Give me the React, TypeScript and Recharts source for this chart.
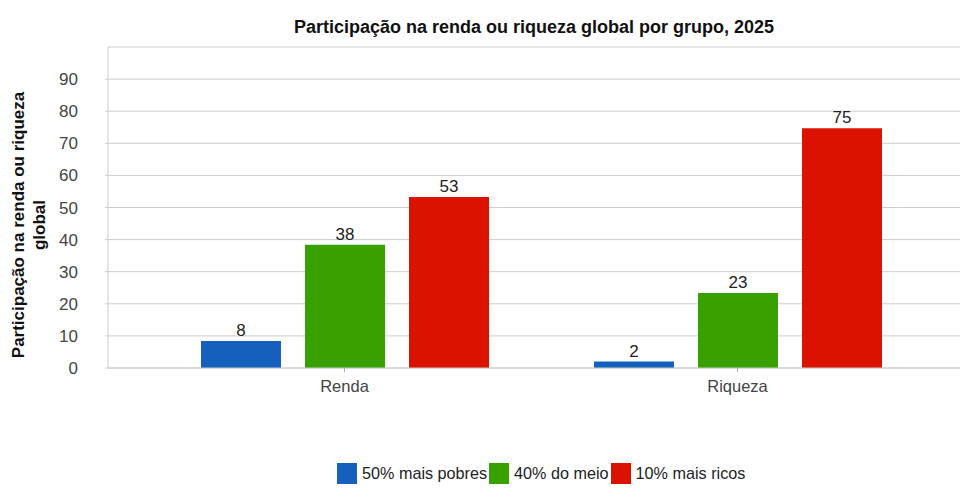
import React from 'react';
import { BarChart, Bar, XAxis, YAxis, CartesianGrid, LabelList } from 'recharts';

const categories = ['Renda', 'Riqueza'];
const poorest50 = [8.4, 2.0];
const middle40 = [38.4, 23.4];
const richest10 = [53.3, 74.7];
const yTicks = [0, 10, 20, 30, 40, 50, 60, 70, 80, 90];
const seriesNames = ['50% mais pobres', '40% do meio', '10% mais ricos'];
const seriesKeys = ['poorest50', 'middle40', 'richest10'];
const colors = ['#1560bd', '#38a100', '#dc1200'];
const title = 'Participação na renda ou riqueza global por grupo, 2025';
const yLabelLines = ['Participação na renda ou riqueza', 'global'];

const data = categories.map((name, i) => ({
  name,
  poorest50: poorest50[i],
  middle40: middle40[i],
  richest10: richest10[i],
}));

const FONT = '"Liberation Sans", Arial, sans-serif';

export default function App() {
  return (
    <div style={{ position: 'absolute', left: 0, top: 0, width: 960, height: 489, background: '#fff', fontFamily: FONT }}>
      <div style={{ position: 'absolute', left: 108, width: 852, top: 15, textAlign: 'center', fontWeight: 'bold', fontSize: 18, color: '#111', lineHeight: '24px' }}>
        {title}
      </div>
      <svg style={{ position: 'absolute', left: 0, top: 0 }} width={60} height={489}>
        {yLabelLines.map((l, i) => (
          <text key={i} x={0} y={0} transform={`translate(${24 + i * 21}, 225) rotate(-90)`} textAnchor="middle"
            fontFamily={FONT} fontWeight="bold" fontSize={17} fill="#111">{l}</text>
        ))}
      </svg>
      <BarChart width={960} height={489} data={data} margin={{ top: 47, right: 0, left: 0, bottom: 91 }}
        barSize={80} barGap={24} style={{ fontFamily: FONT }}>
        <CartesianGrid vertical={false} stroke="#ccc" />
        <YAxis width={108} domain={[0, 100]} ticks={yTicks} interval={0} tickSize={3} tickMargin={27}
          axisLine={{ stroke: '#ccc' }} tickLine={{ stroke: '#ccc' }} tick={{ fill: '#444', fontSize: 17 }} />
        <XAxis dataKey="name" height={30} padding={{ left: 40, right: 26 }} tickSize={4} tickMargin={8}
          axisLine={{ stroke: '#ccc' }} tickLine={{ stroke: '#aaa' }} tick={{ fill: '#444', fontSize: 16.5 }} />
        {seriesKeys.map((k, i) => (
          <Bar key={k} dataKey={k} name={seriesNames[i]} fill={colors[i]} isAnimationActive={false}>
            <LabelList dataKey={k} position="top" offset={5} fill="#222" fontSize={17}
              formatter={(v: any) => Math.round(Number(v))} />
          </Bar>
        ))}
      </BarChart>
      <div style={{ position: 'absolute', left: 337, top: 463, display: 'flex', alignItems: 'center', fontSize: 16.2, color: '#222' }}>
        {seriesNames.map((n, i) => (
          <div key={n} style={{ display: 'flex', alignItems: 'center', marginRight: 2 }}>
            <span style={{ display: 'inline-block', width: 20, height: 21, background: colors[i], marginRight: 5 }} />
            <span>{n}</span>
          </div>
        ))}
      </div>
    </div>
  );
}
